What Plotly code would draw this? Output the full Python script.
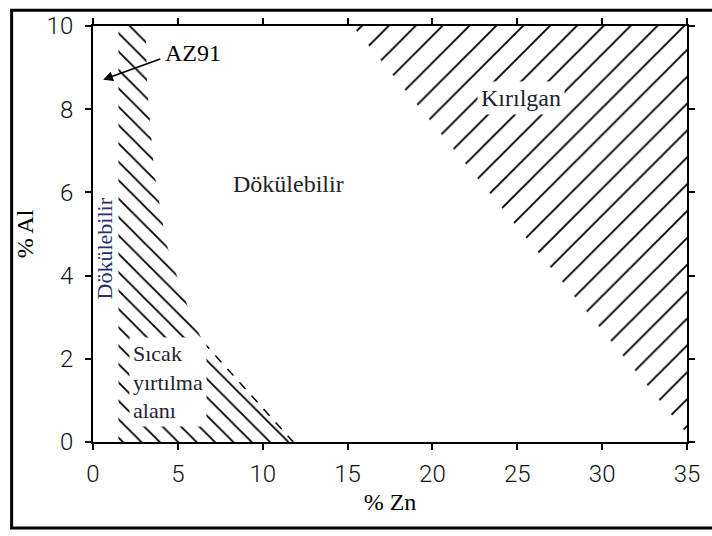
import plotly.graph_objects as go

# ---- data ----
x_ticks = [0, 5, 10, 15, 20, 25, 30, 35]
y_ticks = [0, 2, 4, 6, 8, 10]

# hatched strip + hot-tearing zone (left region), boundary polygon (% Zn, % Al)
strip_zn = [1.5, 1.5, 3.1, 3.2, 3.6, 4.3, 5.1, 5.9, 6.5, 11.6, 1.5]
strip_al = [0.0, 10.0, 10.0, 8.5, 6.5, 4.8, 3.8, 2.9, 2.4, 0.0, 0.0]

# dashed boundary of hot-tearing zone
dash_zn = [6.5, 11.8]
dash_al = [2.4, 0.0]

# brittle (Kırılgan) region
brittle_zn = [15.3, 35.0, 35.0, 15.3]
brittle_al = [10.0, 10.0, 0.2, 10.0]

# labels
lbl_text = ["AZ91", "Dökülebilir", "Kırılgan", "Sıcak<br>yırtılma<br>alanı"]
lbl_zn = [5.9, 11.5, 25.2, 4.4]
lbl_al = [9.34, 6.2, 8.28, 1.45]

SERIF = "Liberation Serif, Times New Roman, serif"
TICKFONT = dict(family="Roboto", size=24, color="#111111", weight=300)

fig = go.Figure()

fig.add_trace(go.Scatter(
    x=strip_zn, y=strip_al, mode="lines", fill="toself",
    line=dict(width=0, color="black"),
    fillcolor="rgba(0,0,0,0)",
    fillpattern=dict(shape="\\", size=13, solidity=0.14,
                     fgcolor="black", bgcolor="white", fillmode="replace"),
    hoverinfo="skip", showlegend=False))

fig.add_trace(go.Scatter(
    x=brittle_zn, y=brittle_al, mode="lines", fill="toself",
    line=dict(width=0, color="black"),
    fillcolor="rgba(0,0,0,0)",
    fillpattern=dict(shape="/", size=19, solidity=0.1,
                     fgcolor="black", bgcolor="white", fillmode="replace"),
    hoverinfo="skip", showlegend=False))

fig.add_trace(go.Scatter(
    x=dash_zn, y=dash_al, mode="lines",
    line=dict(width=1.5, color="black", dash="dash"),
    hoverinfo="skip", showlegend=False))

axis_common = dict(
    showline=True, linecolor="black", linewidth=2, mirror="ticks",
    ticks="outside", ticklen=6, tickwidth=1.5, tickcolor="black",
    showgrid=False, zeroline=False,
    tickfont=TICKFONT,
)

fig.update_layout(
    width=712, height=536,
    margin=dict(l=93, r=21, t=17, b=94),
    paper_bgcolor="white", plot_bgcolor="white",
    xaxis=dict(range=[0, 35], tickvals=x_ticks, ticktext=[str(v) for v in x_ticks],
               ticklabelstandoff=3,
               title=dict(text="% Zn", font=dict(family=SERIF, size=24, color="black"), standoff=6),
               **axis_common),
    yaxis=dict(range=[0, 10], tickvals=y_ticks, ticktext=[str(v) for v in y_ticks],
               ticklabelstandoff=7,
               title=dict(text="% Al", font=dict(family=SERIF, size=24, color="black"), standoff=6),
               **axis_common),
)

label_colors = ["black", "#222222", "#222233", "#222233"]
label_sizes = [24, 24, 24, 22]
label_bg = [None, None, "white", "white"]
for t, zx, ya, c, s, bg in zip(lbl_text, lbl_zn, lbl_al, label_colors, label_sizes, label_bg):
    kw = dict(x=zx, y=ya, xref="x", yref="y", text=t, showarrow=False,
              font=dict(family=SERIF, size=s, color=c), align="left")
    if bg:
        kw.update(bgcolor=bg, borderpad=3)
    fig.add_annotation(**kw)

# rotated label on the left
fig.add_annotation(x=0.7, y=4.65, xref="x", yref="y", text="Dökülebilir",
                   textangle=-90, showarrow=False,
                   font=dict(family=SERIF, size=22, color="#2b2d6e"))

# AZ91 arrow
fig.add_annotation(x=0.6, y=8.71, xref="x", yref="y", ax=4.05, ay=9.22,
                   axref="x", ayref="y", text="", showarrow=True,
                   arrowhead=2, arrowsize=1.3, arrowwidth=1.5, arrowcolor="black")

# outer frame of the figure (right edge lies outside the picture)
fig.add_shape(type="rect", xref="paper", yref="paper",
              x0=-0.137, x1=1.12, y0=-0.207, y1=1.038,
              line=dict(color="black", width=3), layer="below")

fig.write_html("out.html")
